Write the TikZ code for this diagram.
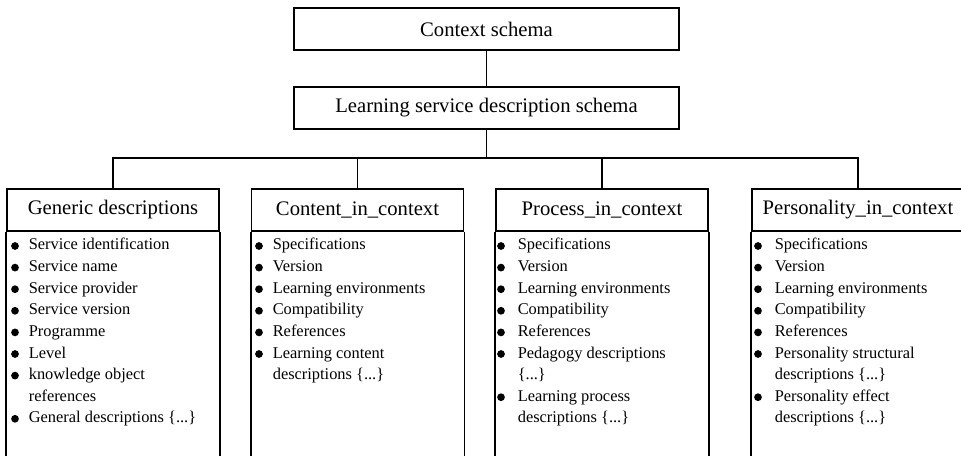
\documentclass[tikz,border=0pt]{standalone}
\usepackage{fontspec}
\setmainfont{Liberation Serif}
\begin{document}
\begin{tikzpicture}[x=0.75pt, y=-0.75pt, line width=1.2pt,
    schemabox/.style={draw, rectangle, minimum width=288.75pt, minimum height=31.5pt, font=\fontsize{15.5}{18}\selectfont},
    headbox/.style={draw, rectangle, minimum width=159pt, minimum height=31.5pt, font=\fontsize{15.5}{18}\selectfont},
    item/.style={anchor=base west, align=left, inner sep=0pt, font=\fontsize{12.3}{16.2}\selectfont}]

        \clip (0,0) rectangle (961,456);

        % Schemi in alto
        \node[schemabox] (ctx) at (486.5, 29) {Context schema};
        \node[schemabox] (lsd) at (486.5, 108) {Learning service description schema};
        \draw (ctx) -- (lsd);

        % Intestazioni
        \node[headbox] (gen) at (113, 210) {Generic descriptions};
        \node[headbox] (con) at (357.5, 210) {Content\_in\_context};
        \node[headbox] (pro) at (602, 210) {Process\_in\_context};
        \node[headbox] (per) at (858, 210) {Personality\_in\_context};

        % Bus
        \coordinate (bus) at (486.5, 158);
        \draw (lsd) -- (bus);
        \draw (gen.north) |- (bus) -| (per.north);
        \draw (con.north) -- (con.north |- bus);
        \draw (pro.north) -- (pro.north |- bus);

        % Corpo dei riquadri
        \foreach \b in {gen, con, pro, per} {
            \draw (\b.south west) -- ++(0, 230);
            \draw (\b.south east) -- ++(0, 230);
        }

        % Generic descriptions (riga del pallino / riga dell'ultima base)
        \foreach \n/\m/\t in {0/0/Service identification, 1/1/Service name, 2/2/Service provider, 3/3/Service version,
                              4/4/Programme, 5/5/Level, 6/7/{knowledge object\\references}, 8/8/{General descriptions \{...\}}} {
            \fill (15, 246+21.6*\n) circle (2.9pt);
            \node[item] (gen-\n) at (28, 250+21.6*\m) {\t};
        }

        % Content_in_context
        \foreach \n/\m/\t in {0/0/Specifications, 1/1/Version, 2/2/Learning environments, 3/3/Compatibility,
                              4/4/References, 5/6/{Learning content\\descriptions \{...\}}} {
            \fill (259, 246+21.6*\n) circle (2.9pt);
            \node[item] (con-\n) at (272, 250+21.6*\m) {\t};
        }

        % Process_in_context
        \foreach \n/\m/\t in {0/0/Specifications, 1/1/Version, 2/2/Learning environments, 3/3/Compatibility,
                              4/4/References, 5/6/{Pedagogy descriptions\\\{...\}}, 7/8/{Learning process\\descriptions \{...\}}} {
            \fill (501, 246+21.6*\n) circle (2.9pt);
            \node[item] (pro-\n) at (517, 250+21.6*\m) {\t};
        }

        % Personality_in_context
        \foreach \n/\m/\t in {0/0/Specifications, 1/1/Version, 2/2/Learning environments, 3/3/Compatibility,
                              4/4/References, 5/6/{Personality structural\\descriptions \{...\}}, 7/8/{Personality effect\\descriptions \{...\}}} {
            \fill (758, 246+21.6*\n) circle (2.9pt);
            \node[item] (per-\n) at (774, 250+21.6*\m) {\t};
        }

    \end{tikzpicture}
\end{document}
